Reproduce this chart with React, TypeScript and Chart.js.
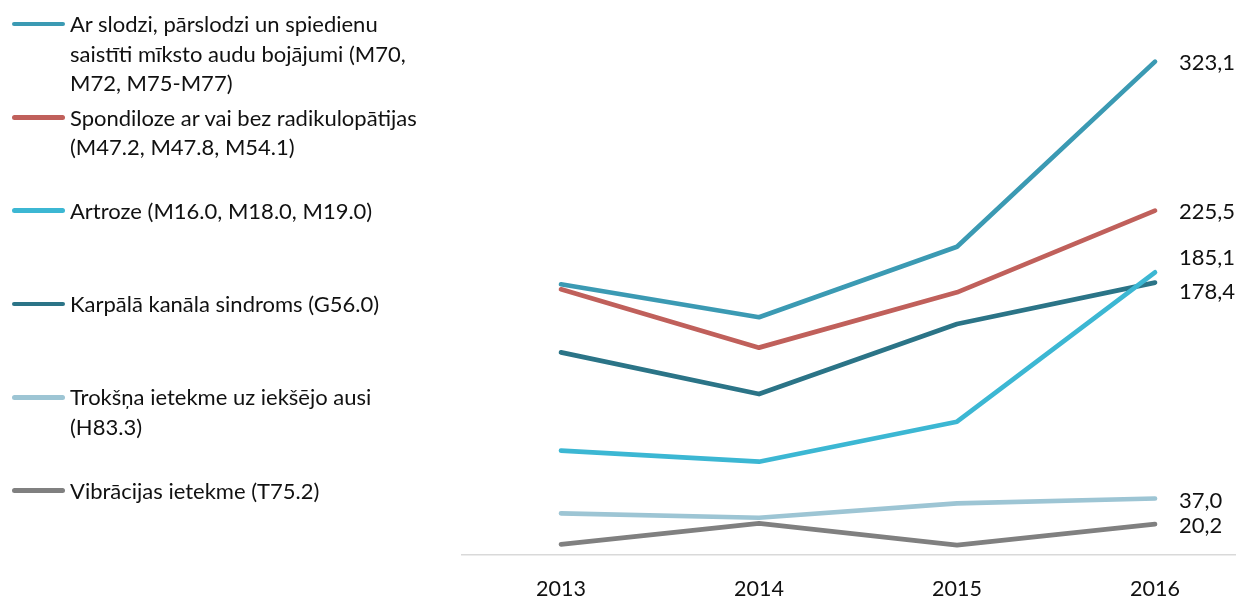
import React, { useEffect, useRef } from "react";
import { Chart, registerables } from "chart.js";

Chart.register(...registerables);

const years = [2013, 2014, 2015, 2016];

const seriesNames = [
  "Ar slodzi, pārslodzi un spiedienu\nsaistīti mīksto audu bojājumi (M70,\nM72, M75-M77)",
  "Spondiloze ar vai bez radikulopātijas\n(M47.2, M47.8, M54.1)",
  "Artroze (M16.0, M18.0, M19.0)",
  "Karpālā kanāla sindroms (G56.0)",
  "Trokšņa ietekme uz iekšējo ausi\n(H83.3)",
  "Vibrācijas ietekme (T75.2)",
];

const softTissue = [177.3, 155.7, 201.9, 323.1];
const spondylosis = [174.0, 135.8, 172.0, 225.5];
const arthrosis = [68.3, 61.1, 87.3, 185.1];
const carpalTunnel = [132.7, 105.4, 151.3, 178.4];
const noise = [27.3, 24.4, 33.8, 37.0];
const vibration = [7.0, 20.7, 6.5, 20.2];

const seriesValues = [softTissue, spondylosis, arthrosis, carpalTunnel, noise, vibration];

// styles
const colors = ["#3b9ab3", "#c0605b", "#3cb7d3", "#2b7487", "#9dc5d4", "#808080"];
const labelShift = [1, 1, -14, 9, 2, 2];
const FONT = "Lato, 'Open Sans', sans-serif";
const TEXT = "#111111";

const endLabels = {
  id: "endLabels",
  afterDatasetsDraw(chart: any) {
    const ctx = chart.ctx;
    ctx.save();
    ctx.font = `22px ${FONT}`;
    ctx.fillStyle = TEXT;
    ctx.textAlign = "left";
    ctx.textBaseline = "middle";
    chart.data.datasets.forEach((ds: any, i: number) => {
      const meta = chart.getDatasetMeta(i);
      const last = meta.data[meta.data.length - 1];
      const v = ds.data[ds.data.length - 1].y;
      const txt = v.toFixed(1).replace(".", ",");
      ctx.fillText(txt, last.x + 24, last.y + labelShift[i]);
    });
    ctx.restore();
  },
};

export default function App() {
  const ref = useRef<HTMLCanvasElement | null>(null);

  useEffect(() => {
    if (!ref.current) return;
    const chart = new Chart(ref.current, {
      type: "line",
      data: {
        datasets: seriesValues.map((vals, i) => ({
          label: seriesNames[i].replace(/\n/g, " "),
          data: vals.map((v, j) => ({ x: years[j], y: v })),
          borderColor: colors[i],
          backgroundColor: colors[i],
          borderWidth: 4.7,
          pointRadius: 0,
          tension: 0,
          borderCapStyle: "round",
          borderJoinStyle: "round",
          fill: false,
        })),
      },
      options: {
        animation: false,
        responsive: true,
        maintainAspectRatio: false,
        layout: { padding: { left: 462, top: 20.55, right: 0, bottom: 0 } },
        plugins: {
          legend: { display: false },
          tooltip: { enabled: false },
        },
        scales: {
          x: {
            type: "linear",
            min: 2012.5,
            max: 2012.5 + 774 / 198,
            afterBuildTicks: (scale: any) => {
              scale.ticks = years.map((y) => ({ value: y }));
            },
            afterFit: (scale: any) => {
              scale.height = 42;
            },
            grid: { display: false, drawTicks: false },
            border: { display: true, color: "#d9d9d9", width: 1.5 },
            ticks: {
              padding: 21,
              color: TEXT,
              font: { family: FONT, size: 21.5 },
              callback: (v: any) => String(v),
              maxRotation: 0,
              autoSkip: false,
            },
          },
          y: {
            display: false,
            min: 0,
            max: 350,
          },
        },
      },
      plugins: [endLabels],
    });
    return () => chart.destroy();
  }, []);

  return (
    <div style={{ position: "fixed", left: 0, top: 0, width: 1236, height: 597, background: "#fff" }}>
      <canvas ref={ref} />
      {seriesNames.map((name, i) => (
        <div
          key={i}
          style={{
            position: "absolute",
            left: 0,
            top: 24 + 93.3 * i - 14.75,
          }}
        >
          <div
            style={{
              position: "absolute",
              left: 12,
              top: 12.5,
              width: 53,
              height: 4.7,
              borderRadius: 3,
              background: colors[i],
            }}
          />
          <div
            style={{
              position: "absolute",
              left: 70,
              top: 0,
              whiteSpace: "pre",
              font: `22px/29.5px ${FONT}`,
              color: TEXT,
            }}
          >
            {name}
          </div>
        </div>
      ))}
    </div>
  );
}
